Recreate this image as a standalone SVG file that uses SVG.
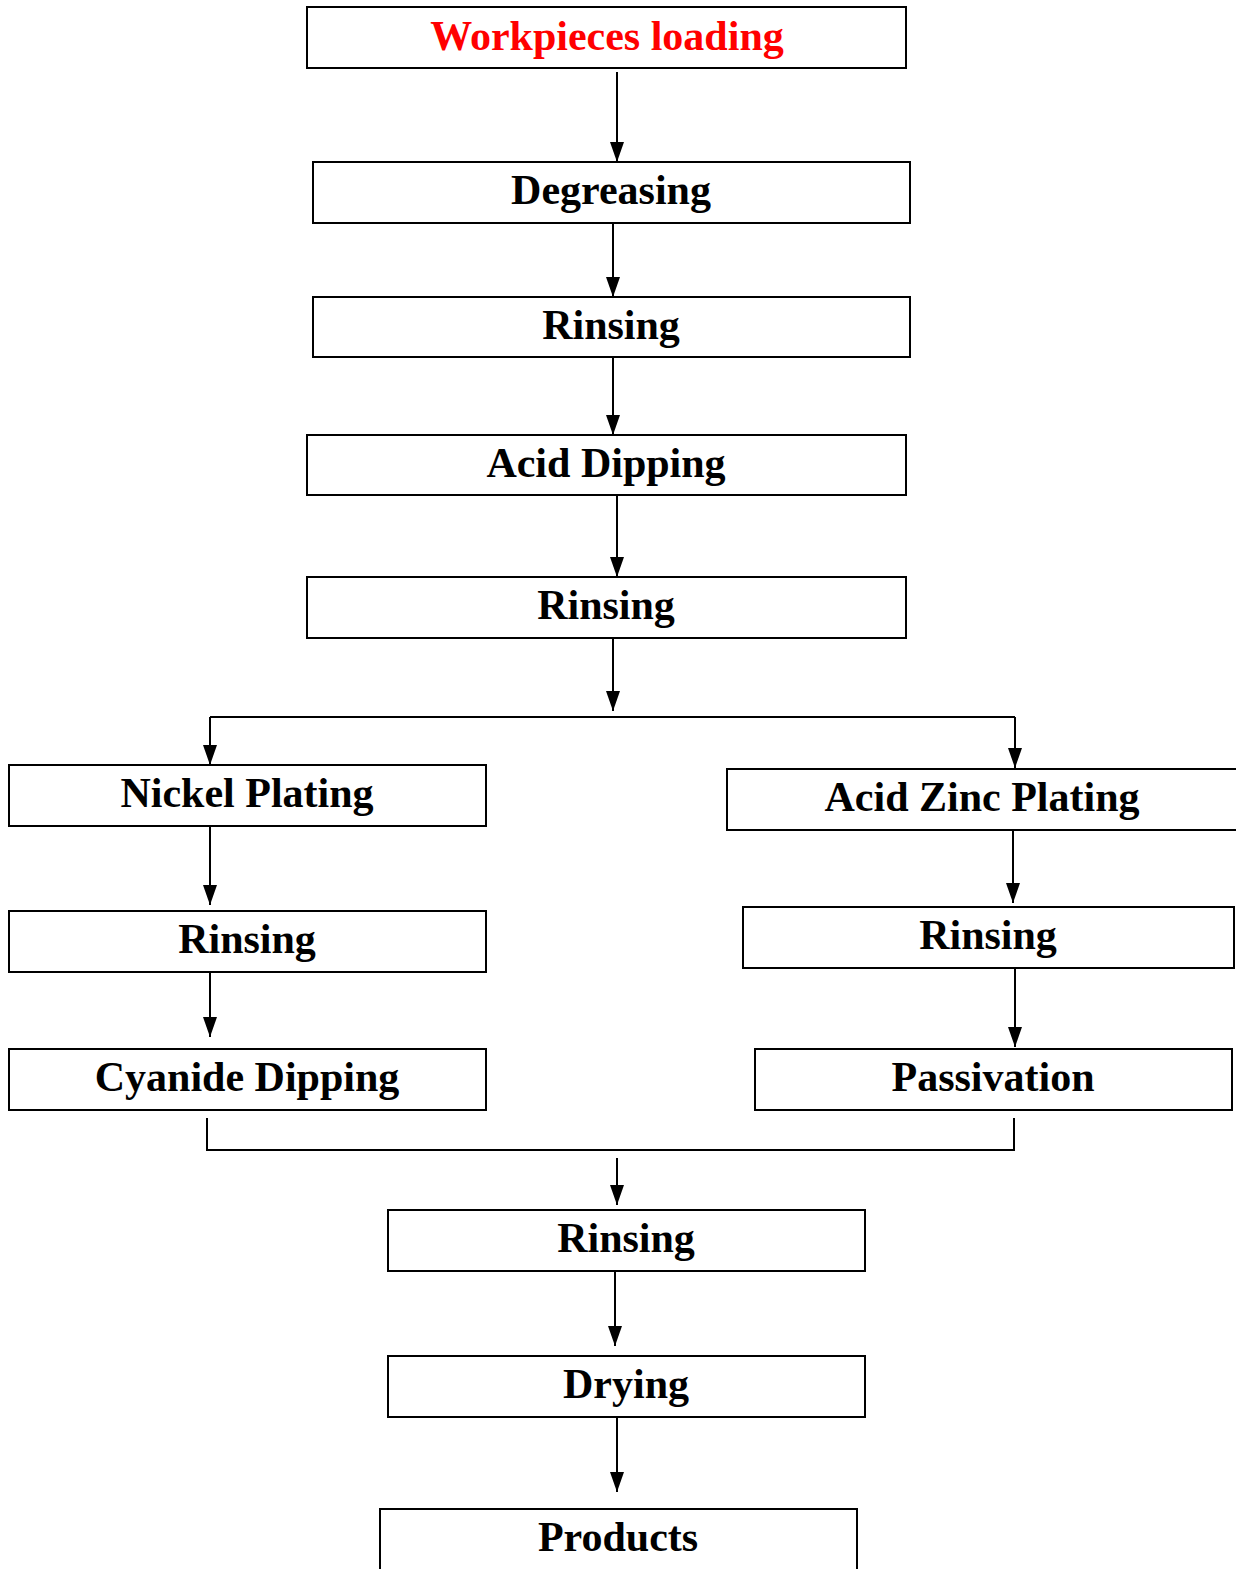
<svg xmlns="http://www.w3.org/2000/svg" width="1236" height="1569" viewBox="0 0 1236 1569">
<style>
.box{fill:#fff;stroke:#000;stroke-width:2}
.t{font-family:"Liberation Serif","Times New Roman",serif;font-weight:bold;font-size:42px;text-anchor:middle;fill:#000}
.red{fill:#ff0000}
.c{stroke:#000;stroke-width:2;fill:none}
.ca{stroke:#000;stroke-width:2;fill:none;marker-end:url(#ah)}
</style>
<defs>
<marker id="ah" markerWidth="20" markerHeight="14" refX="20" refY="7" orient="auto" markerUnits="userSpaceOnUse" viewBox="0 0 20 14">
<path d="M0,0 L20,7 L0,14 Z" fill="#000"/>
</marker>
</defs>
<rect width="1236" height="1569" fill="#fff"/>
<g id="connectors">
<line class="ca" x1="617" y1="72" x2="617" y2="162"/>
<line class="ca" x1="613" y1="223" x2="613" y2="297"/>
<line class="ca" x1="613" y1="357" x2="613" y2="435"/>
<line class="ca" x1="617" y1="495" x2="617" y2="577"/>
<line class="ca" x1="613" y1="638" x2="613" y2="711"/>
<line class="c" x1="210" y1="717" x2="1015" y2="717"/>
<line class="ca" x1="210" y1="717" x2="210" y2="765"/>
<line class="ca" x1="1015" y1="717" x2="1015" y2="768"/>
<line class="ca" x1="210" y1="826" x2="210" y2="905"/>
<line class="ca" x1="1013" y1="830" x2="1013" y2="903"/>
<line class="ca" x1="210" y1="972" x2="210" y2="1037"/>
<line class="ca" x1="1015" y1="968" x2="1015" y2="1047"/>
<polyline class="c" points="207,1118 207,1150 1014,1150 1014,1118"/>
<line class="ca" x1="617" y1="1158" x2="617" y2="1205"/>
<line class="ca" x1="615" y1="1271" x2="615" y2="1346"/>
<line class="ca" x1="617" y1="1417" x2="617" y2="1492"/>
</g>
<g id="n1"><rect class="box" x="307" y="7" width="599" height="61"/><text class="t red" x="607" y="50">Workpieces loading</text></g>
<g id="n2"><rect class="box" x="313" y="162" width="597" height="61"/><text class="t" x="611" y="204">Degreasing</text></g>
<g id="n3"><rect class="box" x="313" y="297" width="597" height="60"/><text class="t" x="611" y="339">Rinsing</text></g>
<g id="n4"><rect class="box" x="307" y="435" width="599" height="60"/><text class="t" x="606" y="477">Acid Dipping</text></g>
<g id="n5"><rect class="box" x="307" y="577" width="599" height="61"/><text class="t" x="606" y="619">Rinsing</text></g>
<g id="n6"><rect class="box" x="9" y="765" width="477" height="61"/><text class="t" x="247" y="807">Nickel Plating</text></g>
<g id="n7"><rect class="box" x="727" y="769" width="512" height="61"/><text class="t" x="982" y="811">Acid Zinc Plating</text></g>
<g id="n8"><rect class="box" x="9" y="911" width="477" height="61"/><text class="t" x="247" y="953">Rinsing</text></g>
<g id="n9"><rect class="box" x="743" y="907" width="491" height="61"/><text class="t" x="988" y="949">Rinsing</text></g>
<g id="n10"><rect class="box" x="9" y="1049" width="477" height="61"/><text class="t" x="247" y="1091">Cyanide Dipping</text></g>
<g id="n11"><rect class="box" x="755" y="1049" width="477" height="61"/><text class="t" x="993" y="1091">Passivation</text></g>
<g id="n12"><rect class="box" x="388" y="1210" width="477" height="61"/><text class="t" x="626" y="1252">Rinsing</text></g>
<g id="n13"><rect class="box" x="388" y="1356" width="477" height="61"/><text class="t" x="626" y="1398">Drying</text></g>
<g id="n14"><rect class="box" x="380" y="1509" width="477" height="70"/><text class="t" x="618" y="1551">Products</text></g>
</svg>
